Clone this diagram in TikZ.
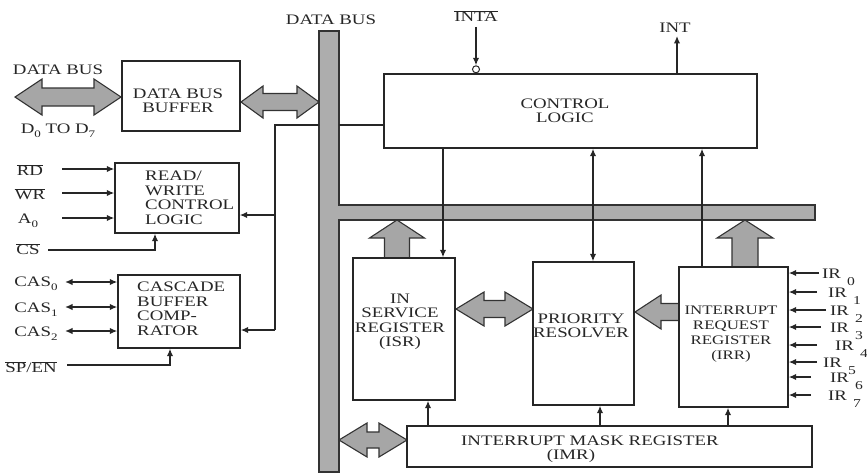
\documentclass[tikz,border=0pt]{standalone}
\usepackage{fontspec}
\setmainfont[FakeStretch=1.3]{Liberation Serif}
\usetikzlibrary{arrows.meta,calc}
\newcommand\ovl[1]{$\overline{\hbox{#1}}$}
\newcommand\lowsub[1]{\raisebox{-4pt}{\fontsize{10}{10}\selectfont #1}}
\newcommand\irsub[1]{\hspace{6pt}\raisebox{-7pt}{\fontsize{12}{12}\selectfont #1}}
% horizontal double fat arrow: x1 x2 y headlen headhalf shafthalf
\newcommand\fatdh[6]{\path[fat] (#1,#3) -- ({#1+#4},{#3-#5}) -- ({#1+#4},{#3-#6}) -- ({#2-#4},{#3-#6}) -- ({#2-#4},{#3-#5}) -- (#2,#3) -- ({#2-#4},{#3+#5}) -- ({#2-#4},{#3+#6}) -- ({#1+#4},{#3+#6}) -- ({#1+#4},{#3+#5}) -- cycle;}
% left-pointing fat arrow: tipx tailx y headlen headhalf shafthalf
\newcommand\fatl[6]{\path[fat] (#1,#3) -- ({#1+#4},{#3-#5}) -- ({#1+#4},{#3-#6}) -- (#2,{#3-#6}) -- (#2,{#3+#6}) -- ({#1+#4},{#3+#6}) -- ({#1+#4},{#3+#5}) -- cycle;}
% upward fat arrow: x tipy taily headlen headhalf shafthalf
\newcommand\fatu[6]{\path[fat] (#1,#2) -- ({#1+#5},{#2+#4}) -- ({#1+#6},{#2+#4}) -- ({#1+#6},#3) -- ({#1-#6},#3) -- ({#1-#6},{#2+#4}) -- ({#1-#5},{#2+#4}) -- cycle;}
\begin{document}
\begin{tikzpicture}[x=1pt,y=-1pt,
  font=\fontsize{14.5}{14.5}\selectfont,
  ln/.style={draw=black!85, line width=1.4pt},
  arr/.style={ln, -{Latex[length=7.5pt,width=6.5pt]}},
  dar/.style={ln, {Latex[length=7.5pt,width=6.5pt]}-{Latex[length=7.5pt,width=6.5pt]}},
  box/.style={draw=black!85, line width=1.4pt, fill=white, inner sep=0pt},
  txt/.style={inner sep=0pt, align=center, text=black!85},
  fat/.style={draw=black!80, line width=1.1pt, fill=black!35, line join=miter},
]
\useasboundingbox (0,0) rectangle (867,475);
% ---- buses
\path[fat, fill=black!32] (319,31) -- (339,31) -- (339,205) -- (815,205) -- (815,220) -- (339,220) -- (339,472) -- (319,472) -- cycle;
\coordinate (busL) at (319,125);
\coordinate (busR) at (339,125);
% ---- fat arrows
\fatdh{15}{121}{97}{27}{18}{9}
\fatdh{241}{319}{102}{22}{16}{8.5}
\fatdh{456}{533}{309}{28}{17}{8.5}
\fatdh{339}{407}{440}{28}{17}{8}
\fatl{635}{679}{312}{26}{17}{8.5}
\fatu{397}{220}{258}{18}{27.5}{12.5}
\fatu{745}{220}{267}{18}{28}{13}
% ---- boxes
\node[box, minimum width=118pt, minimum height=70pt] (buf) at (181,96) {};
\node[box, minimum width=124pt, minimum height=70pt] (rw) at (177,198) {};
\node[box, minimum width=122pt, minimum height=73pt] (cas) at (179,311.5) {};
\node[box, minimum width=373pt, minimum height=74pt] (cl) at (570.5,111) {};
\node[box, minimum width=102pt, minimum height=142pt] (isr) at (404,329) {};
\node[box, minimum width=101pt, minimum height=143pt] (pr) at (583.5,333.5) {};
\node[box, minimum width=109pt, minimum height=140pt] (irr) at (733.5,337) {};
\node[box, minimum width=405pt, minimum height=41pt] (imr) at (609.5,446.5) {};
% ---- box texts
\node[txt] (buft) at (178,101) {DATA BUS\\BUFFER};
\node[txt, align=left, anchor=west] (rwt) at (145,198) {READ/\\WRITE\\CONTROL\\LOGIC};
\node[txt, align=left, anchor=west] (cast) at (137,309) {CASCADE\\BUFFER\\COMP-\\RATOR};
\node[txt] (clt) at (565,111) {CONTROL\\LOGIC};
\node[txt] (isrt) at (400,322) {IN\\SERVICE\\REGISTER\\(ISR)};
\node[txt] (prt) at (581,326) {PRIORITY\\RESOLVER};
\node[txt, font=\fontsize{13}{15}\selectfont] (irrt) at (731,334) {INTERRUPT\\REQUEST\\REGISTER\\(IRR)};
\node[txt] (imrt) at (590,449) {INTERRUPT MASK REGISTER\\(IMR)\hspace*{38pt}};
% ---- outside labels
\node[txt] (dbl) at (58,70) {DATA BUS};
\node[txt, anchor=base] (d07) at (58,133) {D\lowsub{0} TO D\lowsub{7}};
\node[txt] (rd) at (30,170) {\ovl{RD}};
\node[txt] (wr) at (30,194) {\ovl{WR}};
\node[txt, anchor=base] (a0) at (28,223) {A\lowsub{0}};
\node[txt] (cs) at (28,249) {\ovl{CS}};
\node[txt, anchor=base] (cas0) at (36,286) {CAS\lowsub{0}};
\node[txt, anchor=base] (cas1) at (36,312) {CAS\lowsub{1}};
\node[txt, anchor=base] (cas2) at (36,336) {CAS\lowsub{2}};
\node[txt] (spen) at (31,367) {\ovl{SP}/\ovl{EN}};
\node[txt] (busl) at (331,20) {DATA BUS};
\node[txt] (inta) at (476,16) {\ovl{INTA}};
\node[txt] (int) at (675,28) {INT};
% IR labels
\foreach \i/\y/\lx/\ax in {0/273/822/819, 1/292/828/817, 2/310/830/826, 3/327/830/821, 4/345/835/817, 5/362/823/817, 6/377/830/811, 7/395/828/811}{
  \node[txt, anchor=base west] (ir\i) at (\lx,\y+5) {IR\irsub{\i}};
  \coordinate (irs\i) at (\ax,\y);
  \draw[arr] (irs\i) -- (irs\i -| irr.east);
}
% ---- left-side connectors
\coordinate (rdS) at (62,169);
\coordinate (wrS) at (62,193);
\coordinate (a0S) at (62,218);
\draw[arr] (rdS) -- (rdS -| rw.west);
\draw[arr] (wrS) -- (wrS -| rw.west);
\draw[arr] (a0S) -- (a0S -| rw.west);
\coordinate (csS) at (48,250);
\draw[arr] (csS) -| ($(rw.south)+(-22,0)$);
\coordinate (c0S) at (65,282);
\coordinate (c1S) at (65,307);
\coordinate (c2S) at (65,331);
\draw[dar] (c0S) -- (c0S -| cas.west);
\draw[dar] (c1S) -- (c1S -| cas.west);
\draw[dar] (c2S) -- (c2S -| cas.west);
\coordinate (spS) at (67,365);
\draw[arr] (spS) -| ($(cas.south)+(-9,0)$);
% bracket to data bus / control logic
\coordinate (ja) at (275,125);
\coordinate (jb) at (275,215);
\coordinate (jc) at (275,330);
\draw[ln] (busL) -- (ja) -- (jc);
\draw[arr] (jb) -- (jb -| rw.east);
\draw[arr] (jc) -- (jc -| cas.east);
\draw[ln] (busR) -- (busR -| cl.west);
% ---- control logic connectors
\coordinate (x1) at (443,0);
\coordinate (x2) at (593,0);
\coordinate (x3) at (702,0);
\draw[arr] (cl.south -| x1) -- (isr.north -| x1);
\draw[dar] (cl.south -| x2) -- (pr.north -| x2);
\draw[arr] (irr.north -| x3) -- (cl.south -| x3);
% INTA / INT
\node[circle, draw=black!85, line width=1pt, inner sep=0pt, minimum size=7pt, anchor=south] (bub) at (cl.north -| inta) {};
\draw[arr, shorten <=5pt] (inta.south) -- (bub.north);
\coordinate (intx) at (677,0);
\draw[arr, shorten >=3pt] (cl.north -| intx) -- (int.south -| intx);
% ---- IMR connectors
\coordinate (m1) at (428,0);
\coordinate (m2) at (600,0);
\coordinate (m3) at (728,0);
\draw[arr] (imr.north -| m1) -- (isr.south -| m1);
\draw[arr] (imr.north -| m2) -- (pr.south -| m2);
\draw[arr] (imr.north -| m3) -- (irr.south -| m3);
\end{tikzpicture}
\end{document}
